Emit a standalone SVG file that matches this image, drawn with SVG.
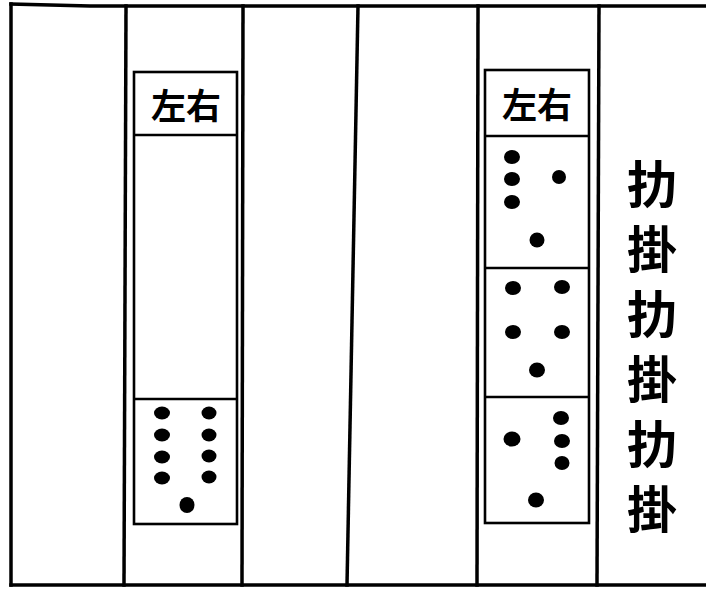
<svg xmlns="http://www.w3.org/2000/svg" width="706" height="590" viewBox="0 0 706 590">
<style>
.rule{stroke:#000;stroke-width:3.5;fill:none;stroke-linecap:square}
.box{stroke:#000;stroke-width:2.6;fill:#fff}
.div{stroke:#000;stroke-width:2.4}
.dot{fill:#000}
.hdr{font-family:"Noto Sans CJK SC","Noto Sans CJK JP",serif;font-weight:bold;font-size:35px;text-anchor:middle;fill:#000}
.side{font-family:"Noto Sans CJK TC","Noto Sans CJK SC",serif;font-weight:bold;font-size:50px;text-anchor:middle;fill:#000}
</style>
<rect width="706" height="590" fill="#fff"/>
<g id="frame">
<path class="rule" d="M11,4 L90,6 L706,6"/>
<line class="rule" x1="11" y1="4" x2="11" y2="585"/>
<line class="rule" x1="11" y1="585" x2="706" y2="585"/>
<line class="rule" x1="126" y1="6" x2="124" y2="585"/>
<line class="rule" x1="243" y1="6" x2="242" y2="585"/>
<line class="rule" x1="358" y1="6" x2="347" y2="585"/>
<line class="rule" x1="478" y1="6" x2="477" y2="585"/>
<line class="rule" x1="599" y1="6" x2="597" y2="585"/>
</g>
<g id="left-column">
<rect class="box" x="134" y="72" width="103" height="452"/>
<line class="div" x1="134" y1="135" x2="237" y2="135"/>
<line class="div" x1="134" y1="399" x2="237" y2="399"/>
<text class="hdr" x="186" y="119">左右</text>
<g class="dot">
<ellipse cx="162" cy="413" rx="8" ry="6.5"/>
<ellipse cx="162" cy="435" rx="8" ry="6.5"/>
<ellipse cx="162" cy="457" rx="8" ry="6.5"/>
<ellipse cx="162" cy="478" rx="8" ry="6.5"/>
<ellipse cx="209" cy="413" rx="7.5" ry="6.5"/>
<ellipse cx="209" cy="435" rx="7.5" ry="6.5"/>
<ellipse cx="209" cy="456" rx="7.5" ry="6.5"/>
<ellipse cx="209" cy="477" rx="7.5" ry="6.5"/>
<ellipse cx="187" cy="505" rx="7.5" ry="8"/>
</g>
</g>
<g id="right-column">
<rect class="box" x="485" y="70" width="104" height="453"/>
<line class="div" x1="485" y1="136" x2="589" y2="136"/>
<line class="div" x1="485" y1="268" x2="589" y2="268"/>
<line class="div" x1="485" y1="397" x2="589" y2="397"/>
<text class="hdr" x="537" y="118">左右</text>
<g class="dot">
<ellipse cx="512" cy="157" rx="8" ry="7"/>
<ellipse cx="512" cy="179" rx="8" ry="7"/>
<ellipse cx="512" cy="202" rx="8" ry="7"/>
<ellipse cx="559" cy="177" rx="7" ry="7"/>
<ellipse cx="537" cy="240" rx="7.5" ry="7.5"/>
<ellipse cx="513" cy="288" rx="8" ry="7"/>
<ellipse cx="562" cy="287" rx="8" ry="7"/>
<ellipse cx="513" cy="332" rx="8" ry="7"/>
<ellipse cx="562" cy="332" rx="8" ry="7"/>
<ellipse cx="537" cy="370" rx="8" ry="7.5"/>
<ellipse cx="561" cy="418" rx="8" ry="7"/>
<ellipse cx="562" cy="441" rx="8" ry="7"/>
<ellipse cx="562" cy="463" rx="7.5" ry="7"/>
<ellipse cx="512" cy="439" rx="8.5" ry="7.5"/>
<ellipse cx="536" cy="500" rx="8" ry="7.5"/>
</g>
</g>
<g id="side-text">
<text class="side" x="652" y="203">扐</text>
<text class="side" x="652" y="268">掛</text>
<text class="side" x="652" y="333">扐</text>
<text class="side" x="652" y="398">掛</text>
<text class="side" x="652" y="463">扐</text>
<text class="side" x="652" y="528">掛</text>
</g>
</svg>
